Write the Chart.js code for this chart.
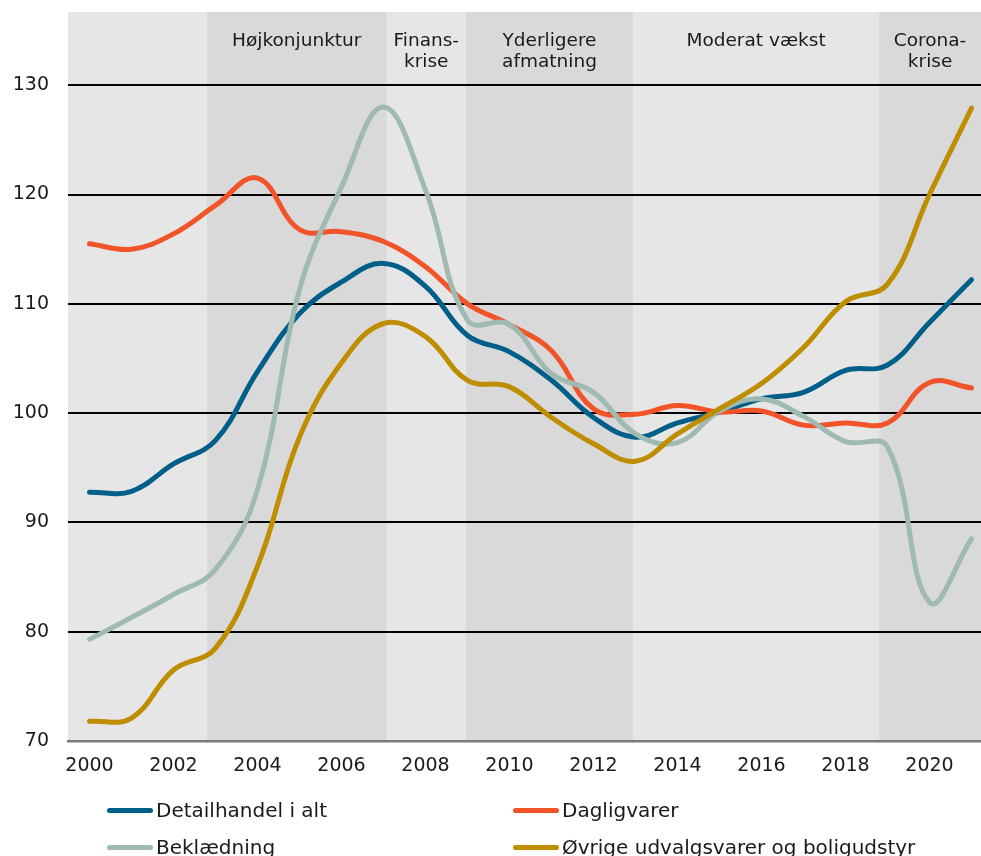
<!DOCTYPE html>
<html>
<head>
<meta charset="utf-8">
<script src="https://cdn.jsdelivr.net/npm/chart.js@4/dist/chart.umd.min.js"></script>
<style>
  html, body { margin: 0; padding: 0; background: #ffffff; }
  #wrap { position: relative; width: 981px; height: 856px; overflow: hidden; }
  #c { position: absolute; left: 0; top: 0; }
  .leg { position: absolute; font-family: "DejaVu Sans", Verdana, sans-serif; font-size: 20px; color: #1a1a1a; white-space: nowrap; line-height: 24px; }
  .leg .sw { position: absolute; left: 0; top: 10px; width: 46px; height: 5px; border-radius: 3px; }
  .leg .tx { position: absolute; left: 49px; top: 0; }
</style>
</head>
<body>
<div id="wrap">
  <canvas id="c" width="981" height="856"></canvas>
</div>
<script>
// ---- Data ----
const years = [2000,2001,2002,2003,2004,2005,2006,2007,2008,2009,2010,2011,2012,2013,2014,2015,2016,2017,2018,2019,2020,2021];
const seriesNames = ["Detailhandel i alt", "Dagligvarer", "Beklædning", "Øvrige udvalgsvarer og boligudstyr"];
const detailhandel = [92.75,92.85,95.35,97.5,103.8,109.1,112.0,113.7,111.6,107.1,105.6,103.0,99.6,97.8,99.1,100.1,101.3,101.9,103.9,104.4,108.3,112.2];
const dagligvarer  = [115.5,115.0,116.4,119.0,121.5,116.8,116.6,115.7,113.4,110.0,108.1,105.7,100.4,99.9,100.7,100.1,100.2,98.9,99.1,99.1,102.8,102.3];
const beklaedning  = [79.3,81.3,83.4,85.7,93.0,111.3,120.7,128.0,120.4,108.5,108.1,103.6,101.9,98.1,97.3,100.2,101.3,99.7,97.4,96.9,82.7,88.5];
const oevrige      = [71.8,72.1,76.5,78.5,86.0,97.8,104.6,108.2,107.0,103.0,102.4,99.6,97.2,95.6,98.1,100.4,102.7,106.0,110.2,111.8,120.0,127.9];
const xTicks = [2000,2002,2004,2006,2008,2010,2012,2014,2016,2018,2020];
const yTicks = [70,80,90,100,110,120,130];
// Periods (band edges in years) and their labels
const bandStart = [1999.488, 2002.798, 2007.071, 2008.964, 2012.94, 2018.80];
const bandEnd   = [2002.798, 2007.071, 2008.964, 2012.94, 2018.80, 2021.226];
const bandDark  = [false, true, false, true, false, true];
const bandLabels = [[], ["Højkonjunktur"], ["Finans-","krise"], ["Yderligere","afmatning"], ["Moderat vækst"], ["Corona-","krise"]];

// ---- Styles ----
const colors = ["#005f89", "#f2542a", "#9fbab0", "#bf8d00"];
const LIGHT = "#e6e6e6", DARK = "#d9d9d9";
const FONT = '"DejaVu Sans", Verdana, sans-serif';

const seriesData = [detailhandel, dagligvarer, beklaedning, oevrige];

const bandsPlugin = {
  id: 'bands',
  beforeDraw(chart) {
    const {ctx, chartArea, scales} = chart;
    const {left, right, top, bottom} = chartArea;
    const xs = scales.x;
    ctx.save();
    ctx.fillStyle = LIGHT;
    ctx.fillRect(left, top, right - left, bottom - top);
    for (let i = 0; i < bandStart.length; i++) {
      const x0 = Math.max(left, xs.getPixelForValue(bandStart[i]));
      const x1 = Math.min(right, xs.getPixelForValue(bandEnd[i]));
      if (bandDark[i]) {
        ctx.fillStyle = DARK;
        ctx.fillRect(x0, top, x1 - x0, bottom - top);
      }
      const lines = bandLabels[i];
      ctx.fillStyle = "#1a1a1a";
      ctx.font = "18.5px " + FONT;
      ctx.textAlign = "center";
      ctx.textBaseline = "alphabetic";
      const cx = (x0 + x1) / 2;
      for (let j = 0; j < lines.length; j++) {
        ctx.fillText(lines[j], cx, top + 33.5 + j * 21);
      }
    }
    ctx.restore();
  }
};

const chart = new Chart(document.getElementById('c'), {
  type: 'line',
  data: {
    datasets: seriesNames.map((name, k) => ({
      label: name,
      data: years.map((yr, i) => ({x: yr, y: seriesData[k][i]})),
      borderColor: colors[k],
      backgroundColor: colors[k],
      borderWidth: 5,
      pointRadius: 0,
      pointHoverRadius: 0,
      tension: 0.4,
      borderCapStyle: 'round',
      borderJoinStyle: 'round',
      fill: false,
      order: 4 - k
    }))
  },
  options: {
    responsive: false,
    maintainAspectRatio: false,
    devicePixelRatio: 1,
    animation: false,
    layout: { padding: { top: 12, right: 0, left: 0, bottom: 0 } },
    plugins: { legend: { display: false }, tooltip: { enabled: false } },
    scales: {
      x: {
        type: 'linear',
        min: 1999.488,
        max: 2021.226,
        afterBuildTicks: (s) => { s.ticks = xTicks.map(v => ({value: v})); },
        afterFit: (s) => { s.height = 115; s.paddingLeft = 0; s.paddingRight = 0; },
        grid: { display: false, drawTicks: false },
        border: { display: true, color: '#7a7a7a', width: 2.5 },
        ticks: {
          callback: (v) => String(v),
          font: { family: FONT, size: 19 },
          color: '#1a1a1a',
          padding: 14,
          maxRotation: 0,
          autoSkip: false
        }
      },
      y: {
        type: 'linear',
        min: 70,
        max: 136.7,
        afterBuildTicks: (s) => { s.ticks = yTicks.map(v => ({value: v})); },
        afterFit: (s) => { s.width = 68; s.paddingTop = 0; s.paddingBottom = 0; },
        grid: {
          drawTicks: false,
          color: (c) => (c.tick && c.tick.value === 70) ? '#7a7a7a' : '#000000',
          lineWidth: 2
        },
        border: { display: false },
        ticks: {
          callback: (v) => String(v),
          font: { family: FONT, size: 19 },
          color: '#1a1a1a',
          padding: 19
        }
      }
    }
  },
  plugins: [bandsPlugin]
});

// ---- HTML legend ----
const legPos = [[107, 798], [513, 798], [107, 835], [513, 835]];
const wrap = document.getElementById('wrap');
seriesNames.forEach((name, k) => {
  const d = document.createElement('div');
  d.className = 'leg';
  d.style.left = legPos[k][0] + 'px';
  d.style.top = legPos[k][1] + 'px';
  const sw = document.createElement('span');
  sw.className = 'sw';
  sw.style.background = colors[k];
  const tx = document.createElement('span');
  tx.className = 'tx';
  tx.textContent = name;
  d.appendChild(sw); d.appendChild(tx);
  wrap.appendChild(d);
});
</script>
</body>
</html>
